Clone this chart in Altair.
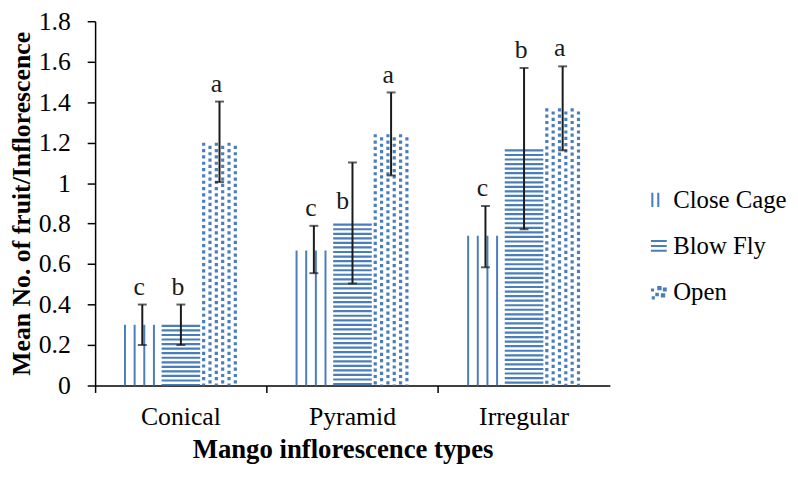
import altair as alt
import pandas as pd

# ---- data ----
categories = ["Conical", "Pyramid", "Irregular"]
series = ["Close Cage", "Blow Fly", "Open"]

mean_close = [0.30, 0.667, 0.740]
mean_blow = [0.30, 0.800, 1.167]
mean_open = [1.20, 1.242, 1.370]

lo_close = [0.20, 0.555, 0.584]
lo_blow = [0.20, 0.504, 0.772]
lo_open = [1.005, 1.038, 1.162]

hi_close = [0.40, 0.789, 0.887]
hi_blow = [0.40, 1.102, 1.569]
hi_open = [1.403, 1.448, 1.577]

letters_close = ["c", "c", "c"]
letters_blow = ["b", "b", "b"]
letters_open = ["a", "a", "a"]
# letter drawn just above the bar top (left of the error bar) instead of above the cap
letter_on_bar_blow = [False, True, False]

y_ticks = [0, 0.2, 0.4, 0.6, 0.8, 1.0, 1.2, 1.4, 1.6, 1.8]

rows = []
for s, m, lo, hi, let, onbar in [
    ("Close Cage", mean_close, lo_close, hi_close, letters_close, [False] * 3),
    ("Blow Fly", mean_blow, lo_blow, hi_blow, letters_blow, letter_on_bar_blow),
    ("Open", mean_open, lo_open, hi_open, letters_open, [False] * 3),
]:
    for i, c in enumerate(categories):
        rows.append(dict(category=c, series=s, mean=m[i], lo=lo[i], hi=hi[i],
                         letter=let[i], onbar=onbar[i]))
df = pd.DataFrame(rows)

BLUE = "#4A7EBB"
INK = "#1a1a1a"
FONT = "Liberation Serif"

# pixel shift of each series' bar centre within a category band (bar width 39 px)
series_shift = {"Close Cage": -39.0, "Blow Fly": 0.0, "Open": 39.0}


def Y(field):
    return alt.Y(f"{field}:Q",
                 scale=alt.Scale(domain=[0, 1.8], nice=False, zero=True),
                 axis=alt.Axis(values=y_ticks, format=".1~f", title="Mean No. of fruit/Inflorescence",
                               tickSize=8, labelPadding=17, titlePadding=4, titleFontSize=26,
                               grid=False))


X = alt.X("category:N", sort=categories,
          scale=alt.Scale(paddingInner=0, paddingOuter=0),
          axis=alt.Axis(title="Mango inflorescence types", labelAngle=0, bandPosition=0,
                        tickSize=7, labelPadding=11, titlePadding=8, titleFontSize=27,
                        titleX=250, grid=False))

base = alt.Chart(df).encode(x=X)

layers = []

for s in series:
    sh = series_shift[s]
    sub = base.transform_filter(alt.datum.series == s)
    if s == "Close Cage":
        # vertical line pattern
        for off in [-17.5, -7.75, 2.0, 11.75]:
            layers.append(sub.mark_rule(color=BLUE, strokeWidth=2, xOffset=sh + off)
                          .encode(y=Y("mean"), y2=alt.datum(0)))
    elif s == "Blow Fly":
        # horizontal stripes
        layers.append(sub.mark_rule(color=BLUE, strokeWidth=39, strokeDash=[2.2, 2.4], xOffset=sh)
                      .encode(y=Y("mean"), y2=alt.datum(0)))
    else:
        # checker of small squares
        for i, off in enumerate([-16.0, -9.6, -3.2, 3.2, 9.6, 16.0]):
            layers.append(sub.mark_rule(color=BLUE, strokeWidth=3.2, strokeDash=[3.2, 3.2],
                                        strokeDashOffset=(3.2 if i % 2 else 0), xOffset=sh + off)
                          .encode(y=Y("mean"), y2=alt.datum(0)))
    # error bars
    layers.append(sub.mark_rule(color=INK, strokeWidth=2, xOffset=sh).encode(y=Y("lo"), y2="hi:Q"))
    layers.append(sub.mark_tick(color=INK, size=9, thickness=2, xOffset=sh).encode(y=Y("lo")))
    layers.append(sub.mark_tick(color=INK, size=9, thickness=2, xOffset=sh).encode(y=Y("hi")))
    # significance letters
    layers.append(sub.transform_filter(alt.datum.onbar == False)
                  .mark_text(font=FONT, fontSize=26, color=INK, baseline="middle",
                             xOffset=sh - 3, dy=-18)
                  .encode(y=Y("hi"), text="letter:N"))
    layers.append(sub.transform_filter(alt.datum.onbar == True)
                  .mark_text(font=FONT, fontSize=26, color=INK, baseline="middle",
                             xOffset=sh - 10, dy=-23)
                  .encode(y=Y("mean"), text="letter:N"))

# legend carrier (no marks drawn)
shapes = [
    "M-0.95,-0.9h0.26v1.8h-0.26z M-0.2,-0.9h0.26v1.8h-0.26z",
    "M-1,-0.75h2v0.26h-2z M-1,-0.13h2v0.26h-2z M-1,0.49h2v0.26h-2z",
    "M-1,-0.45h0.4v0.4h-0.4z M-0.2,-0.75h0.55v0.55h-0.55z M0.5,-0.55h0.5v0.5h-0.5z "
    "M-0.45,0.1h0.45v0.45h-0.45z M0.25,0.15h0.55v0.55h-0.55z M-0.9,0.55h0.4v0.4h-0.4z",
]
layers.append(
    base.transform_filter("false")
    .mark_point(filled=True, color=BLUE)
    .encode(
        y=Y("mean"),
        shape=alt.Shape("series:N", sort=series,
                        scale=alt.Scale(domain=series, range=shapes),
                        legend=alt.Legend(title=None, orient="none", legendX=557, legendY=168,
                                          symbolSize=256, symbolFillColor=BLUE,
                                          symbolStrokeWidth=0, symbolOpacity=1,
                                          labelFont=FONT, labelFontSize=25, labelColor="black",
                                          labelOffset=2, rowPadding=20.5, padding=0)),
    )
)

chart = (
    alt.layer(*layers)
    .properties(width=520, height=368,
                autosize=alt.AutoSizeParams(type="none"),
                padding={"left": 88, "top": 11, "right": 182, "bottom": 82})
    .configure_view(stroke=None)
    .configure_axis(labelFont=FONT, labelFontSize=26, labelColor="black",
                    titleFont=FONT, titleFontWeight="bold", titleColor="black",
                    domainColor="black", domainWidth=1.5, tickColor="black", tickWidth=1.5)
)

chart.save("out.html", embed_options={"renderer": "svg", "actions": False})
